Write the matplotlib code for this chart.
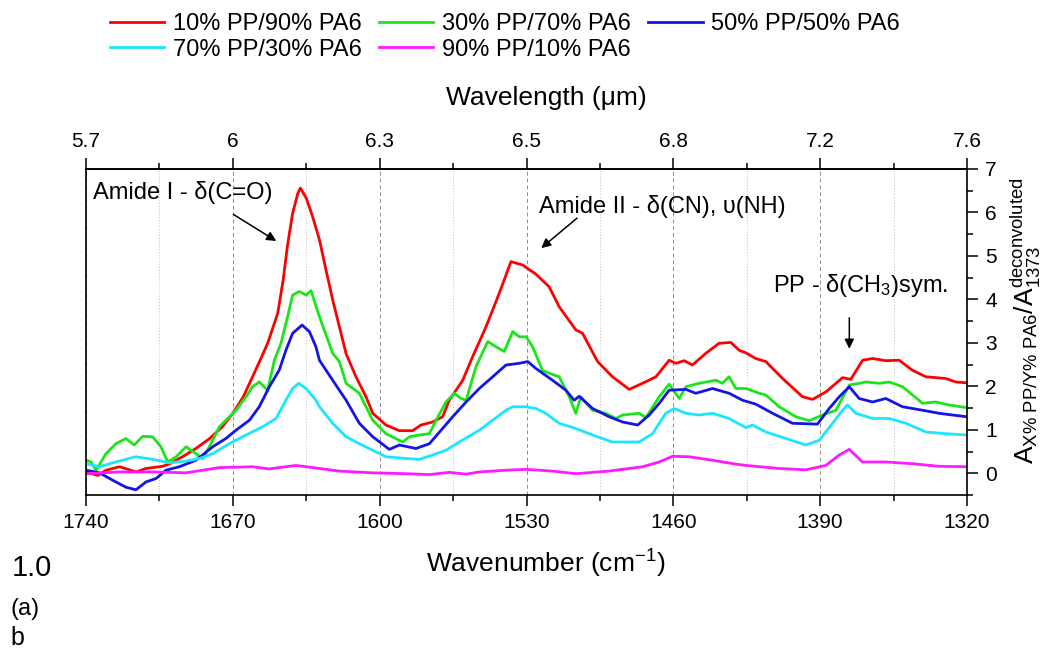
import matplotlib
matplotlib.use("Agg")
import matplotlib.pyplot as plt
from matplotlib.ticker import FixedLocator

plt.rcParams['font.family'] = ['Liberation Sans', 'DejaVu Sans']
plt.rcParams['mathtext.fontset'] = 'custom'
plt.rcParams['mathtext.rm'] = 'Liberation Sans'
plt.rcParams['mathtext.it'] = 'Liberation Sans:italic'
plt.rcParams['mathtext.bf'] = 'Liberation Sans:bold'

# data (wavenumber in cm-1, normalised absorbance)
wn_red = [1740, 1734.4, 1730.5, 1724, 1716, 1711.4, 1703.5, 1700, 1694, 1687.6, 1681, 1675, 1670, 1665,
          1660.6, 1657, 1653.4, 1648.6, 1646, 1644, 1641.5, 1639, 1637.8, 1635, 1632, 1628.7, 1625.6,
          1622.4, 1619.2, 1616, 1611.3, 1606.5, 1603.3, 1597, 1590.6, 1584.3, 1580.3, 1574.7, 1570,
          1566.8, 1560.4, 1555.7, 1549.3, 1543, 1537.4, 1531.8, 1525.5, 1519.2, 1514.4, 1506.5, 1503.3,
          1496.1, 1489, 1481, 1474.7, 1468.3, 1462, 1458.8, 1454.8, 1450.9, 1444.5, 1438.2, 1432.6,
          1428.6, 1425.4, 1420.7, 1415.9, 1407.9, 1398.4, 1393.6, 1387.3, 1379.3, 1375.4, 1369.8, 1365,
          1358.7, 1352.3, 1346, 1339.6, 1330.1, 1325.3, 1320]
a_red = [0.03, -0.05, 0.07, 0.15, 0.03, 0.11, 0.16, 0.22, 0.38, 0.57, 0.80, 1.07, 1.38, 1.76,
         2.22, 2.60, 2.99, 3.68, 4.45, 5.22, 5.98, 6.44, 6.56, 6.33, 5.91, 5.37, 4.68,
         3.99, 3.37, 2.75, 2.22, 1.76, 1.38, 1.11, 0.98, 0.98, 1.11, 1.18, 1.30,
         1.68, 2.14, 2.68, 3.37, 4.14, 4.87, 4.79, 4.58, 4.29, 3.83, 3.30, 3.22,
         2.57, 2.22, 1.93, 2.07, 2.22, 2.60, 2.53, 2.59, 2.49, 2.76, 2.99, 3.01,
         2.83, 2.77, 2.64, 2.57, 2.18, 1.76, 1.70, 1.87, 2.20, 2.16, 2.60, 2.64,
         2.59, 2.60, 2.37, 2.22, 2.18, 2.10, 2.08]

wn_green = [1740, 1737.6, 1735.2, 1730.5, 1725.7, 1721, 1717, 1713, 1708.2, 1704.3, 1701, 1697, 1692.3,
            1687.6, 1684.4, 1681.2, 1676.4, 1673.3, 1668.5, 1663.7, 1660.6, 1657.4, 1653.4, 1650.2, 1647,
            1643.9, 1641.5, 1638.3, 1635.1, 1632.7, 1628.7, 1622.4, 1619.2, 1616, 1609.7, 1603.3, 1597,
            1589, 1585.8, 1581.1, 1576.3, 1573.1, 1568.4, 1564.4, 1561.2, 1558.8, 1554.1, 1548.5, 1544.5,
            1540.6, 1536.6, 1533.4, 1530.2, 1527.1, 1522.4, 1519.2, 1514.4, 1509.6, 1506.5, 1504.1, 1498.5,
            1492.2, 1487.4, 1484.2, 1476.3, 1473.1, 1466.7, 1462, 1457.2, 1454, 1447.7, 1439.7, 1436.6,
            1433.4, 1430.2, 1425.4, 1419, 1415.9, 1409.5, 1401.6, 1395.2, 1388.9, 1382.5, 1376.1, 1371.4,
            1368.2, 1361.8, 1357.1, 1350.7, 1341.2, 1334.8, 1328.5, 1320]
a_green = [0.30, 0.26, 0.07, 0.45, 0.68, 0.80, 0.65, 0.85, 0.84, 0.61, 0.26, 0.38, 0.61,
           0.45, 0.34, 0.61, 1.07, 1.22, 1.45, 1.76, 1.99, 2.10, 1.91, 2.60, 3.00,
           3.60, 4.10, 4.18, 4.10, 4.20, 3.60, 2.76, 2.57, 2.07, 1.84, 1.22, 0.91,
           0.72, 0.84, 0.88, 0.91, 1.22, 1.64, 1.84, 1.72, 1.68, 2.45, 3.03, 2.91,
           2.80, 3.26, 3.14, 3.14, 2.91, 2.37, 2.30, 2.22, 1.76, 1.38, 1.76, 1.45,
           1.38, 1.26, 1.34, 1.38, 1.28, 1.76, 2.05, 1.72, 1.99, 2.07, 2.14, 2.07,
           2.22, 1.95, 1.95, 1.84, 1.80, 1.53, 1.30, 1.21, 1.34, 1.45, 2.03, 2.07,
           2.10, 2.07, 2.10, 1.99, 1.61, 1.64, 1.57, 1.51]

wn_blue = [1740, 1733.6, 1727.3, 1721, 1716.2, 1711.4, 1706.6, 1701.9, 1695.5, 1687.6, 1684.4, 1679.6,
           1673.3, 1668.5, 1662.1, 1657.4, 1652.6, 1647.9, 1644.7, 1641.5, 1637, 1633.5, 1630.4, 1628.7,
           1622.4, 1616, 1609.7, 1603.3, 1595.4, 1590.6, 1582.7, 1576.3, 1570, 1565.2, 1558.8, 1552.5,
           1546.1, 1539.8, 1533.4, 1529.4, 1525.5, 1517.6, 1511.2, 1507.3, 1504.9, 1498.5, 1490.6, 1484.2,
           1477, 1471.5, 1466.7, 1462, 1454, 1449.3, 1441.3, 1433.4, 1427, 1420.7, 1412.7, 1403.2,
           1391.3, 1385.7, 1380.9, 1376.1, 1371.4, 1365, 1358.7, 1350.7, 1341.2, 1333.3, 1326.9, 1320]
a_blue = [0.07, 0.01, -0.16, -0.32, -0.38, -0.20, -0.12, 0.07, 0.15, 0.30, 0.42, 0.61,
          0.80, 0.99, 1.22, 1.53, 1.99, 2.37, 2.83, 3.22, 3.41, 3.26, 2.91, 2.60,
          2.14, 1.68, 1.15, 0.84, 0.55, 0.65, 0.57, 0.68, 1.03, 1.30, 1.64, 1.95,
          2.22, 2.49, 2.53, 2.57, 2.41, 2.14, 1.91, 1.68, 1.77, 1.49, 1.30, 1.18,
          1.11, 1.34, 1.61, 1.91, 1.93, 1.84, 1.95, 1.84, 1.68, 1.59, 1.38, 1.15,
          1.13, 1.49, 1.76, 1.99, 1.72, 1.64, 1.72, 1.53, 1.45, 1.38, 1.34, 1.30]

wn_cyan = [1740, 1733.6, 1727.3, 1716.2, 1708.2, 1700.3, 1692.3, 1686, 1679.6, 1671.7, 1663.7, 1655.8,
           1649.4, 1644.7, 1641.5, 1638.6, 1635.1, 1630.4, 1628.7, 1622.4, 1616, 1609.7, 1603.3, 1597,
           1587.4, 1581.1, 1574.7, 1568.4, 1562, 1552.5, 1546.1, 1539.8, 1536.6, 1530.2, 1525.5, 1520.8,
           1514.4, 1506.5, 1498.5, 1489, 1476.3, 1469.9, 1463.6, 1459.6, 1454, 1447.7, 1441.3, 1433.4,
           1425.4, 1422.2, 1415.9, 1406.3, 1396.8, 1390.4, 1384.1, 1379.3, 1376.9, 1373, 1365, 1357.1,
           1349.1, 1339.6, 1330.1, 1320]
a_cyan = [0.22, 0.15, 0.24, 0.38, 0.32, 0.24, 0.28, 0.34, 0.45, 0.68, 0.88, 1.07,
          1.26, 1.68, 1.95, 2.07, 1.95, 1.68, 1.53, 1.15, 0.84, 0.68, 0.53, 0.38,
          0.34, 0.32, 0.42, 0.53, 0.72, 0.99, 1.22, 1.45, 1.53, 1.53, 1.49, 1.38,
          1.15, 1.03, 0.88, 0.72, 0.72, 0.91, 1.38, 1.49, 1.38, 1.34, 1.38, 1.26,
          1.05, 1.11, 0.95, 0.80, 0.65, 0.76, 1.15, 1.45, 1.57, 1.38, 1.26, 1.26,
          1.15, 0.95, 0.91, 0.88]

wn_magenta = [1740, 1724, 1708, 1692.3, 1676.4, 1660.6, 1652.6, 1640, 1635.1, 1619.2, 1603.3, 1587.4,
              1576.3, 1566.8, 1558.8, 1552.5, 1539.8, 1530.3, 1517.6, 1506.5, 1490.6, 1474.7, 1466.7,
              1460.4, 1452.5, 1441.3, 1430.2, 1425.4, 1409.5, 1396.8, 1387.3, 1380.9, 1376.1, 1369.8,
              1358.7, 1346, 1333.3, 1320]
a_magenta = [-0.01, 0.03, 0.03, 0.01, 0.13, 0.15, 0.10, 0.18, 0.15, 0.05, 0.01, -0.01,
             -0.03, 0.02, -0.02, 0.03, 0.07, 0.09, 0.05, -0.01, 0.05, 0.15, 0.26,
             0.39, 0.38, 0.30, 0.21, 0.18, 0.11, 0.08, 0.18, 0.42, 0.55, 0.26,
             0.26, 0.22, 0.16, 0.15]

labels = ['10% PP/90% PA6', '30% PP/70% PA6', '50% PP/50% PA6', '70% PP/30% PA6', '90% PP/10% PA6']
bottom_ticks = [1740, 1670, 1600, 1530, 1460, 1390, 1320]
minor_ticks = [1705, 1635, 1565, 1495, 1425, 1355]
top_labels = ['5.7', '6', '6.3', '6.5', '6.8', '7.2', '7.6']
y_ticks = [0, 1, 2, 3, 4, 5, 6, 7]

series = [(wn_red, a_red, '#ff0000'), (wn_green, a_green, '#19e619'), (wn_blue, a_blue, '#1414e6'),
          (wn_cyan, a_cyan, '#19e6ff'), (wn_magenta, a_magenta, '#ff19ff')]

fig = plt.figure(figsize=(10.47, 6.53), dpi=100)
ax = fig.add_axes([86/1047, 158/653, 881/1047, 326/653])

handles = []
for (x, y, c), lab in zip(series, labels):
    h, = ax.plot(x, y, color=c, lw=2.0, label=lab)
    handles.append(h)

ax.set_xlim(1740, 1320)
ax.set_ylim(-0.5, 7)
ax.xaxis.set_major_locator(FixedLocator(bottom_ticks))
ax.xaxis.set_minor_locator(FixedLocator(minor_ticks))
ax.grid(axis='x', which='major', ls=(0, (4, 3)), color='0.55', lw=0.7)
ax.grid(axis='x', which='minor', ls=(0, (1, 2)), color='0.75', lw=0.7)

ax.yaxis.tick_right()
ax.yaxis.set_label_position('right')
ax.set_yticks(y_ticks)
ax.set_yticks([v + 0.5 for v in range(-1, 7)], minor=True)
ax.tick_params(axis='y', which='major', direction='out', length=8, width=1.1, labelsize=15, pad=5)
ax.tick_params(axis='y', which='minor', direction='out', length=4.5, width=1.1)
ax.tick_params(axis='x', which='major', direction='out', length=8, width=1.1, labelsize=15, pad=5)
ax.tick_params(axis='x', which='minor', direction='out', length=4.5, width=1.1)
for s in ax.spines.values():
    s.set_linewidth(1.2)

ax.set_xlabel('Wavenumber (cm$^{-1}$)', fontsize=19, labelpad=4)
ax.xaxis.set_label_coords(0.522, -0.163)
ax.set_ylabel(r'$\mathrm{A_{X\%\ PP/Y\%\ PA6}/A_{1373}^{deconvoluted}}$', fontsize=19)
ax.yaxis.set_label_coords(1.047, 0.535)

top = ax.secondary_xaxis('top', functions=(lambda v: v, lambda v: v))
top.set_xticks(bottom_ticks, labels=top_labels)
top.xaxis.set_minor_locator(FixedLocator(minor_ticks))
top.tick_params(axis='x', which='major', direction='out', length=8, width=1.1, labelsize=15, pad=5)
top.tick_params(axis='x', which='minor', direction='out', length=4.5, width=1.1)
top.spines['top'].set_linewidth(1.2)
fig.text(546/1047, 1 - 98/653, 'Wavelength (μm)', fontsize=19, ha='center', va='center')

# peak annotations
ax.annotate('', xy=(1648.2, 5.31), xytext=(1670.9, 5.99),
            arrowprops=dict(arrowstyle='-|>', color='black', lw=1.1, mutation_scale=14))
ax.text(1736.7, 6.45, 'Amide I - δ(C=O)', fontsize=17, va='center', ha='left')
ax.annotate('', xy=(1524.0, 5.14), xytext=(1504.9, 5.91),
            arrowprops=dict(arrowstyle='-|>', color='black', lw=1.1, mutation_scale=14))
ax.text(1524, 6.13, 'Amide II - δ(CN), υ(NH)', fontsize=17, va='center', ha='left')
ax.annotate('', xy=(1376.1, 2.80), xytext=(1376.1, 3.64),
            arrowprops=dict(arrowstyle='-|>', color='black', lw=1.1, mutation_scale=14))
ax.text(1412.7, 4.31, 'PP - δ(CH$_3$)sym.', fontsize=17, va='center', ha='left')

# legend filled row by row: matplotlib fills columns, so reorder
order = [0, 3, 1, 4, 2]
fig.legend([handles[i] for i in order], [labels[i] for i in order], ncol=3, loc='upper left',
           bbox_to_anchor=(110/1047, 1 - 13/653), frameon=False,
           fontsize=17, handlelength=2.3, handletextpad=0.35, columnspacing=0.75,
           labelspacing=0.15, borderpad=0, borderaxespad=0)

fig.text(12/1047, 1 - 568/653, '1.0', fontsize=21, va='center', ha='left')
fig.text(10/1047, 1 - 609/653, '(a)', fontsize=17, va='center', ha='left')
fig.text(10/1047, 1 - 638/653, 'b', fontsize=18, va='center', ha='left')

fig.savefig('out.png', dpi=100)
